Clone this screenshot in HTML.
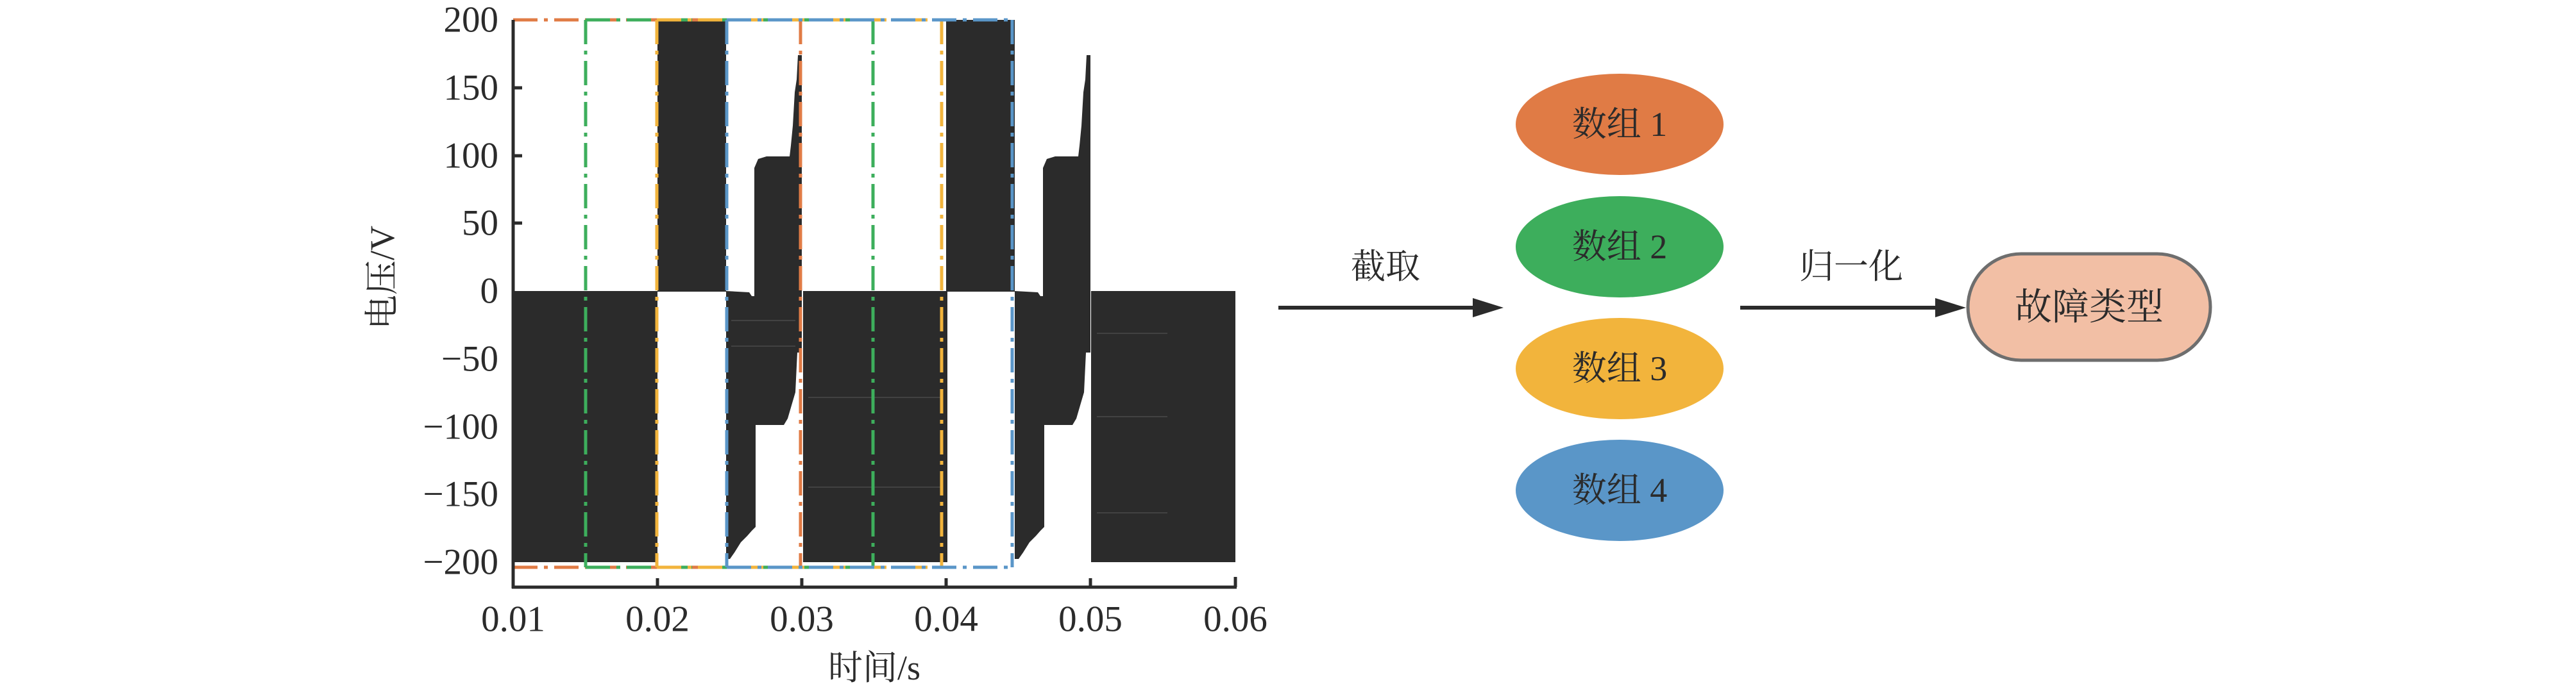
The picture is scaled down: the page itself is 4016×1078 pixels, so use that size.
<!DOCTYPE html>
<html><head><meta charset="utf-8"><style>
html,body{margin:0;padding:0;background:#fff;}
svg{display:block;}
</style></head><body>
<svg width="4016" height="1078" viewBox="0 0 4016 1078" xmlns="http://www.w3.org/2000/svg">
<g fill="#2b2b2b">
  <rect x="800" y="454" width="225" height="423"/>
  <g id="cyc">
    <rect x="1025" y="31" width="107" height="424"/>
    <polygon points="1132,454 1168,456 1172,462 1178,462 1178,822 1172,828 1165,836 1155,846 1145,862 1138,872 1132,872"/>
    <polygon points="1176,262 1182,248 1195,244 1231,244 1233,227 1236,196 1239,144 1242,124 1244,86 1250,86 1250,550 1243,550 1240,612 1235,629 1228,653 1222,663 1176,663"/>
  </g>
  <rect x="1252" y="454" width="225" height="423"/>
  <use href="#cyc" transform="translate(450,0)"/>
  <rect x="1701" y="454" width="225" height="423"/>
</g>
<!-- faint lines -->
<g stroke="#777" stroke-width="1" opacity="0.6">
  <line x1="1140" y1="500" x2="1240" y2="500"/><line x1="1140" y1="540" x2="1240" y2="540"/>
  <line x1="1260" y1="620" x2="1470" y2="620"/><line x1="1260" y1="760" x2="1470" y2="760"/>
  <line x1="1710" y1="520" x2="1820" y2="520"/><line x1="1710" y1="650" x2="1820" y2="650"/>
  <line x1="1710" y1="800" x2="1820" y2="800"/>
</g>
<!-- dash boxes -->
<g fill="none" stroke-width="5" stroke-dasharray="38 10 6 10">
  <g stroke="#e07b45"><line x1="800" y1="31" x2="800" y2="885"/><line x1="1248" y1="31" x2="1248" y2="885"/><line x1="800" y1="31" x2="1248" y2="31"/><line x1="800" y1="885" x2="1248" y2="885"/></g>
  <g stroke="#3dae5c"><line x1="913" y1="31" x2="913" y2="885"/><line x1="1361" y1="31" x2="1361" y2="885"/><line x1="913" y1="31" x2="1361" y2="31"/><line x1="913" y1="885" x2="1361" y2="885"/></g>
  <g stroke="#f2b43c"><line x1="1024" y1="31" x2="1024" y2="885"/><line x1="1468" y1="31" x2="1468" y2="885"/><line x1="1024" y1="31" x2="1468" y2="31"/><line x1="1024" y1="885" x2="1468" y2="885"/></g>
  <g stroke="#5a96c8"><line x1="1133" y1="31" x2="1133" y2="885"/><line x1="1578" y1="31" x2="1578" y2="885"/><line x1="1133" y1="31" x2="1578" y2="31"/><line x1="1133" y1="885" x2="1578" y2="885"/></g>
</g>
<!-- axes -->
<g stroke="#2b2b2b" stroke-width="5">
  <line x1="800" y1="31" x2="800" y2="918"/>
  <line x1="798" y1="916" x2="1928" y2="916"/>
  <line x1="800" y1="137" x2="814" y2="137"/><line x1="800" y1="243" x2="814" y2="243"/><line x1="800" y1="348" x2="814" y2="348"/>
  <line x1="1025" y1="916" x2="1025" y2="902"/><line x1="1250" y1="916" x2="1250" y2="902"/><line x1="1475" y1="916" x2="1475" y2="902"/><line x1="1700" y1="916" x2="1700" y2="902"/><line x1="1926" y1="916" x2="1926" y2="900"/>
</g>
<g font-family="'Liberation Serif','Noto Serif CJK SC',serif" font-size="57" fill="#2b2b2b">
  <g text-anchor="end" dominant-baseline="central">
    <text x="777" y="31">200</text><text x="777" y="137">150</text><text x="777" y="243">100</text><text x="777" y="348">50</text><text x="777" y="454">0</text>
    <text x="777" y="560">−50</text><text x="777" y="666">−100</text><text x="777" y="771">−150</text><text x="777" y="877">−200</text>
  </g>
  <g text-anchor="middle" dominant-baseline="central">
    <text x="800" y="966">0.01</text><text x="1025" y="966">0.02</text><text x="1250" y="966">0.03</text><text x="1475" y="966">0.04</text><text x="1700" y="966">0.05</text><text x="1926" y="966">0.06</text>
    <text x="1363" y="1042" font-size="54">时间/s</text>
    <text x="596" y="433" font-size="54" transform="rotate(-90 596 433)">电压/V</text>
  </g>
</g>
<!-- right diagram -->
<ellipse cx="2525" cy="194" rx="162" ry="79" fill="#e07b45"/>
<ellipse cx="2525" cy="385" rx="162" ry="79" fill="#3dae5c"/>
<ellipse cx="2525" cy="575" rx="162" ry="79" fill="#f2b43c"/>
<ellipse cx="2525" cy="765" rx="162" ry="79" fill="#5a96c8"/>
<rect x="3068" y="396" width="378" height="166" rx="83" ry="83" fill="#f2bfa5" stroke="#6e6e6e" stroke-width="5"/>
<g stroke="#2b2b2b" stroke-width="6"><line x1="1993" y1="480" x2="2300" y2="480"/><line x1="2713" y1="480" x2="3020" y2="480"/></g>
<polygon points="2296,465 2344,480 2296,495" fill="#2b2b2b"/>
<polygon points="3017,465 3065,480 3017,495" fill="#2b2b2b"/>
<g font-family="'Liberation Serif','Noto Serif CJK SC',serif" font-size="54" fill="#2b2b2b" text-anchor="middle" dominant-baseline="central">
  <text x="2525" y="194">数组 1</text><text x="2525" y="385">数组 2</text><text x="2525" y="575">数组 3</text><text x="2525" y="765">数组 4</text>
  <text x="2160" y="416">截取</text><text x="2886" y="416">归一化</text>
  <text x="3257" y="479" font-size="58">故障类型</text>
</g>
</svg>
</body></html>
